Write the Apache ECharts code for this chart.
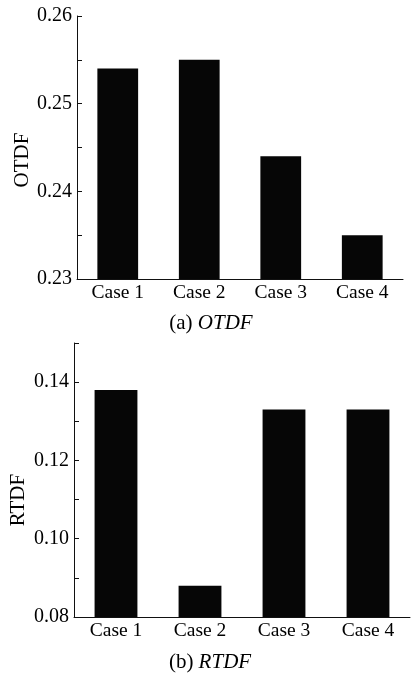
<!DOCTYPE html>
<html>
<head>
<meta charset="utf-8">
<script src="https://cdn.jsdelivr.net/npm/echarts@6/dist/echarts.min.js"></script>
<style>
  html, body { margin: 0; padding: 0; background: #fff; }
  #chart { width: 412px; height: 675px; }
</style>
</head>
<body>
<div id="chart"></div>
<script>
// Four cases compared on two indicators
const categories = ['Case 1', 'Case 2', 'Case 3', 'Case 4'];
const otdfValues = [0.254, 0.255, 0.244, 0.235];
const rtdfValues = [0.138, 0.088, 0.133, 0.133];
const otdfTicks = [0.23, 0.24, 0.25, 0.26];
const rtdfTicks = [0.08, 0.10, 0.12, 0.14];

const FONT = "'Liberation Serif', 'Times New Roman', serif";
const INK = '#111';

const chart = echarts.init(document.getElementById('chart'), null, { renderer: 'canvas' });

// Only the listed values get a printed label; the other ticks stay bare
function labelFrom(list) {
  return function (v) {
    const hit = list.some(t => Math.abs(t - v) < 1e-9);
    return hit ? v.toFixed(2) : '';
  };
}

function yAxisFor(gridIndex, min, max, step, ticks) {
  return {
    type: 'value',
    gridIndex,
    min, max, interval: step,
    splitLine: { show: false },
    axisLine: { show: true, lineStyle: { color: INK, width: 1 } },
    axisTick: { show: true, inside: true, length: 5, lineStyle: { color: INK, width: 1 } },
    axisLabel: {
      margin: 5,
      color: '#000',
      fontFamily: FONT,
      fontSize: 20,
      formatter: labelFrom(ticks),
      showMinLabel: true,
      showMaxLabel: true
    }
  };
}

function xAxisFor(gridIndex) {
  return {
    type: 'category',
    gridIndex,
    data: categories,
    axisLine: { show: true, lineStyle: { color: INK, width: 1 } },
    axisTick: { show: false },
    axisLabel: { margin: 4, color: '#000', fontFamily: FONT, fontSize: 19.5 }
  };
}

const captionRich = {
  n: { fontFamily: FONT, fontSize: 21, fill: '#000' },
  i: { fontFamily: FONT, fontSize: 21, fontStyle: 'italic', fill: '#000' }
};

chart.setOption({
  animation: false,
  backgroundColor: '#fff',
  grid: [
    { left: 77, right: 9, top: 16, height: 263 },
    { left: 74, right: 2, top: 343, height: 274 }
  ],
  xAxis: [xAxisFor(0), xAxisFor(1)],
  yAxis: [
    yAxisFor(0, 0.23, 0.26, 0.005, otdfTicks),
    yAxisFor(1, 0.08, 0.15, 0.01, rtdfTicks)
  ],
  series: [
    {
      type: 'bar', xAxisIndex: 0, yAxisIndex: 0,
      data: otdfValues, barWidth: '50%',
      itemStyle: { color: '#060606' }
    },
    {
      type: 'bar', xAxisIndex: 1, yAxisIndex: 1,
      data: rtdfValues, barWidth: '51%',
      itemStyle: { color: '#060606' }
    }
  ],
  graphic: [
    {
      type: 'text', x: 22, y: 160, rotation: Math.PI / 2,
      style: { text: 'OTDF', font: '21px ' + FONT, fill: '#000', align: 'center', verticalAlign: 'middle' }
    },
    {
      type: 'text', x: 18, y: 500, rotation: Math.PI / 2,
      style: { text: 'RTDF', font: '21px ' + FONT, fill: '#000', align: 'center', verticalAlign: 'middle' }
    },
    {
      type: 'text', x: 211, y: 323,
      style: { text: '{n|(a) }{i|OTDF}', align: 'center', verticalAlign: 'middle', rich: captionRich }
    },
    {
      type: 'text', x: 210, y: 662,
      style: { text: '{n|(b) }{i|RTDF}', align: 'center', verticalAlign: 'middle', rich: captionRich }
    }
  ]
});
</script>
</body>
</html>
